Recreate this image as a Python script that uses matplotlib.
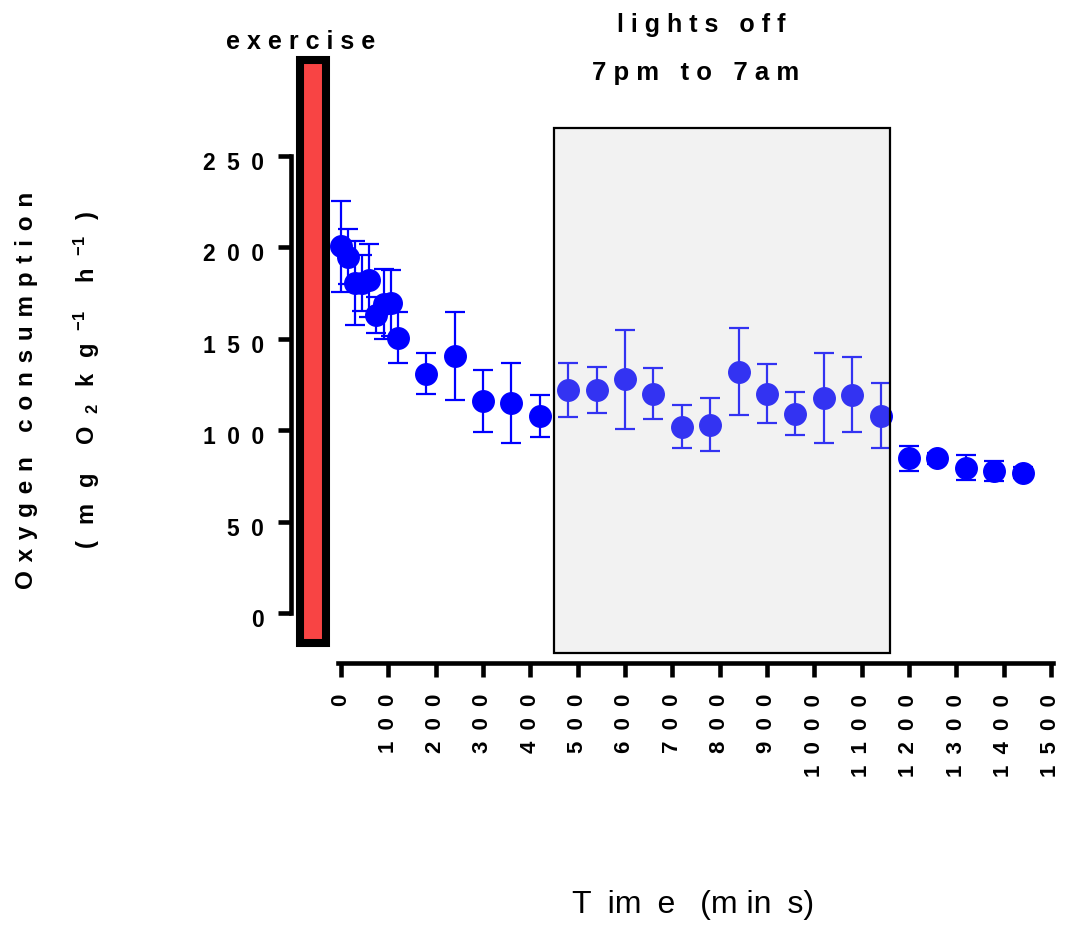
# %%
########## LIBRERIAS A UTILIZAR ##########
import matplotlib
matplotlib.use('Agg')
import matplotlib.pyplot as plt
import matplotlib.transforms as mtransforms
from matplotlib.patches import Rectangle

########## DATOS ##########
# Tiempo (min) despues del ejercicio
tiempo = [0, 15, 30, 45, 60, 75, 90, 105, 120, 180, 240, 300, 360, 420, 480,
          540, 600, 660, 720, 780, 840, 900, 960, 1020, 1080, 1140, 1200,
          1260, 1320, 1380, 1440]

# Consumo de oxigeno promedio (mg O2 kg-1 h-1)
consumo = [200.5, 195, 180.5, 180.5, 182, 163, 169, 169.5, 150.5, 131, 140.5,
           116, 115, 108, 122, 122, 127.8, 120, 102, 103, 132, 120, 109,
           117.5, 119.3, 108, 84.6, 84.6, 79.5, 77.7, 76.8]

# Error estandar
error = [24.7, 15, 23, 15.5, 20, 10, 19, 18, 14, 11, 24, 17, 22, 11.5, 15,
         12.5, 27, 14, 12, 14.6, 23.7, 16, 11.7, 24.7, 20.5, 17.7, 6.8, 3,
         6.7, 5.5, 3]

# Periodos marcados en la grafica
periodo_ejercicio = (-87, -32)
periodo_luces = (450, 1160)

ticks_y = [0, 50, 100, 150, 200, 250]
ticks_x = list(range(0, 1501, 100))

# %%
########## CONFIGURACION ##########
plt.rcParams['font.family'] = ['Liberation Sans', 'DejaVu Sans']
plt.rcParams['font.weight'] = 'bold'
plt.rcParams['mathtext.fontset'] = 'custom'
plt.rcParams['mathtext.rm'] = 'Liberation Sans:bold'
plt.rcParams['mathtext.bf'] = 'Liberation Sans:bold'
plt.rcParams['mathtext.default'] = 'bf'

azul = '#0000ff'
rojo = '#f84444'
EN = '\u2002'


def espaciar(texto, sep=' '):
    # Separa cada letra, como en el grafico original
    return sep.join(texto)


# %%
########## GRAFICA ##########
fig = plt.figure(figsize=(10.66, 9.26), dpi=100)
ax = fig.add_axes([0.2710, 0.2788, 0.7193, 0.6712])
ax.set_xlim(-110, 1510)
ax.set_ylim(-30, 310)

ax.errorbar(tiempo, consumo, yerr=error, fmt='o', color=azul, ms=15.5,
            elinewidth=1.6, capsize=7, capthick=1.6, zorder=3)

# Barra roja del ejercicio
ej = Rectangle((periodo_ejercicio[0], -16.4),
               periodo_ejercicio[1] - periodo_ejercicio[0], 318.9,
               facecolor=rojo, edgecolor='black', lw=5.8, zorder=4,
               clip_on=False)
ax.add_patch(ej)

# Caja gris de luces apagadas (encima de los puntos)
luces = Rectangle((periodo_luces[0], -21.9),
                  periodo_luces[1] - periodo_luces[0], 287.2,
                  facecolor=(0.8, 0.8, 0.8, 0.25), edgecolor='black',
                  lw=1.6, zorder=5, clip_on=False)
ax.add_patch(luces)

# Ejes separados
ax.spines['top'].set_visible(False)
ax.spines['right'].set_visible(False)
ax.spines['left'].set_position(('data', -105))
ax.spines['left'].set_bounds(0, 250)
ax.spines['bottom'].set_position(('data', -27.4))
ax.spines['bottom'].set_bounds(-6, 1504)
ax.spines['left'].set_linewidth(3.3)
ax.spines['bottom'].set_linewidth(3.3)

ax.set_yticks(ticks_y, labels=[espaciar(str(v), EN) for v in ticks_y])
ax.set_xticks(ticks_x, labels=[espaciar(str(v), EN) for v in ticks_x],
              rotation=90)
ax.tick_params(axis='y', length=9.5, width=3.3, pad=10, labelsize=16.5)
ax.tick_params(axis='x', length=10, width=3.3, pad=12, labelsize=16)

# Las etiquetas del eje y van un poco mas abajo que la marca
bajar = mtransforms.ScaledTranslation(0, -5 / 100, fig.dpi_scale_trans)
for lbl in ax.get_yticklabels():
    lbl.set_transform(lbl.get_transform() + bajar)

# Textos
ax.text(-84.5, 312.5, espaciar('exercise'), ha='center', va='center',
        fontsize=18, clip_on=False)
ax.text(761, 321.5, espaciar('lights off'), ha='center', va='center',
        fontsize=18, clip_on=False)
ax.text(750, 295.4, espaciar('7pm to 7am'), ha='center', va='center',
        fontsize=18.5, clip_on=False)

fig.text(27 / 1066, 1 - 390 / 926, espaciar('Oxygen consumption', ' \u200a'),
         rotation=90, ha='center', va='center', fontsize=17.5)
fig.text(87 / 1066, 1 - 380 / 926,
         r'$(\enspace\, m\enspace\, g\enspace\enspace\, O\enspace_{2}\enspace\, '
         r'k\enspace\, g\enspace^{-1}\quad\, h\enspace^{-1}\enspace\, )$',
         rotation=90, ha='center', va='center', fontsize=17)
fig.text(693 / 1066, 1 - 905 / 926,
         'T' + EN + 'im' + EN + 'e' + EN + ' (m in' + EN + 's)',
         ha='center', va='center', fontsize=23, fontweight='normal')

fig.savefig('out.png', dpi=100)
